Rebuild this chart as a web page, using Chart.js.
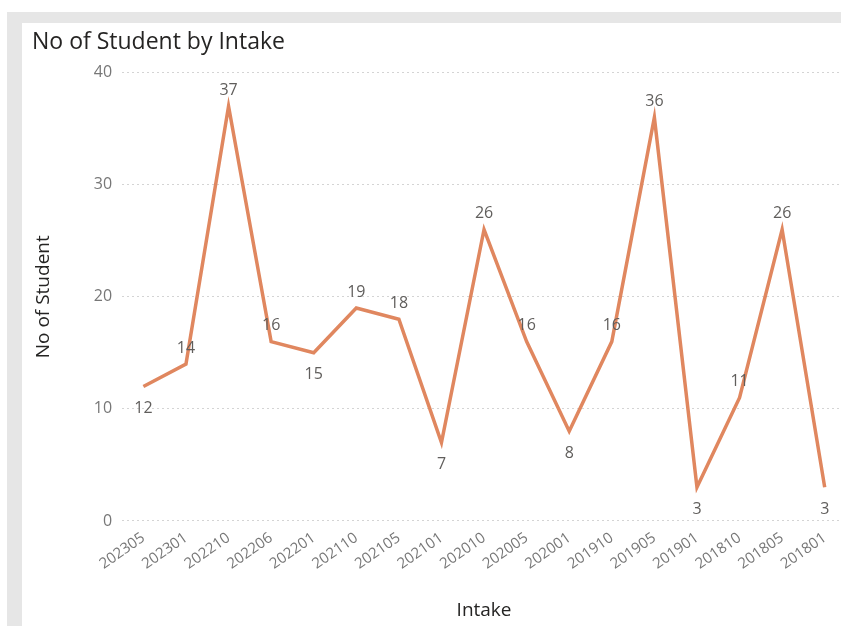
<!DOCTYPE html>
<html>
<head>
<meta charset="utf-8">
<script src="https://cdn.jsdelivr.net/npm/chart.js@4.4.0/dist/chart.umd.min.js"></script>
<style>
  html, body { margin: 0; padding: 0; background: #fff; overflow: hidden; }
  #frame { position: absolute; left: 7px; top: 12px; width: 860px; height: 640px; background: #e6e6e6; }
  #card { position: absolute; left: 22px; top: 23px; width: 830px; height: 603px; background: #fff; }
</style>
</head>
<body>
<div id="frame"></div>
<div id="card"><canvas id="chart"></canvas></div>
<script>
// intakes, newest first
var intakes = ["202305","202301","202210","202206","202201","202110","202105","202101",
               "202010","202005","202001","201910","201905","201901","201810","201805","201801"]
var students = [12,14,37,16,15,19,18,7,26,16,8,16,36,3,11,26,3]
var yTicks = [0,10,20,30,40]

var fontFamily = "'Segoe UI', 'Open Sans', 'Noto Sans', sans-serif"

// value labels: under the point at local dips, over it otherwise
var valueLabels = {
    id: 'valueLabels',
    afterDatasetsDraw: function(chart){
        var ctx = chart.ctx
        var meta = chart.getDatasetMeta(0)
        var vals = chart.data.datasets[0].data
        ctx.save()
        ctx.font = "16px " + fontFamily
        ctx.fillStyle = "#605e5c"
        ctx.textAlign = "center"
        ctx.textBaseline = "middle"
        meta.data.forEach(function(pt, i){
            var prev = i > 0 ? vals[i-1] : Infinity
            var next = i < vals.length-1 ? vals[i+1] : Infinity
            var below = vals[i] <= prev && vals[i] <= next
            ctx.fillText(vals[i], pt.x, below ? pt.y + 22 : pt.y - 16)
        })
        ctx.restore()
    }
}

var mychart = document.getElementById("chart").getContext('2d')
var chart = new Chart(mychart, {
    type: 'line',
    data: {
        labels: intakes,
        datasets: [{
            label: "No of Student",
            data: students,
            borderColor: "#e0875f",
            borderWidth: 3.5,
            pointRadius: 0,
            tension: 0,
            fill: false
        }]
    },
    options: {
        responsive: true,
        maintainAspectRatio: false,
        animation: false,
        layout: { padding: { left: 10, right: 6, top: 0, bottom: 4 } },
        plugins: {
            legend: { display: false },
            tooltip: { enabled: false },
            title: {
                display: true,
                text: "No of Student by Intake",
                align: 'start',
                color: "#252423",
                font: { family: fontFamily, size: 23, weight: 'normal' },
                padding: { top: 6, bottom: 16 }
            }
        },
        scales: {
            x: {
                offset: true,
                grid: { display: false, drawTicks: false },
                border: { display: false },
                ticks: {
                    color: "#777",
                    font: { family: fontFamily, size: 15 },
                    minRotation: 35,
                    maxRotation: 35,
                    autoSkip: false,
                    padding: 8
                },
                title: {
                    display: true,
                    text: "Intake",
                    color: "#252423",
                    font: { family: fontFamily, size: 19 },
                    padding: { top: 18, bottom: 0 }
                }
            },
            y: {
                min: 0,
                max: 40,
                afterBuildTicks: function(axis){
                    axis.ticks = yTicks.map(function(v){ return { value: v } })
                },
                grid: {
                    color: "#d4d4d4",
                    lineWidth: 1,
                    drawTicks: false
                },
                border: { display: false, dash: [2, 3] },
                ticks: {
                    color: "#777",
                    font: { family: fontFamily, size: 16 },
                    padding: 10
                },
                title: {
                    display: true,
                    text: "No of Student",
                    color: "#252423",
                    font: { family: fontFamily, size: 19 },
                    padding: { top: 0, bottom: 29 }
                }
            }
        }
    },
    plugins: [valueLabels]
})
</script>
</body>
</html>
